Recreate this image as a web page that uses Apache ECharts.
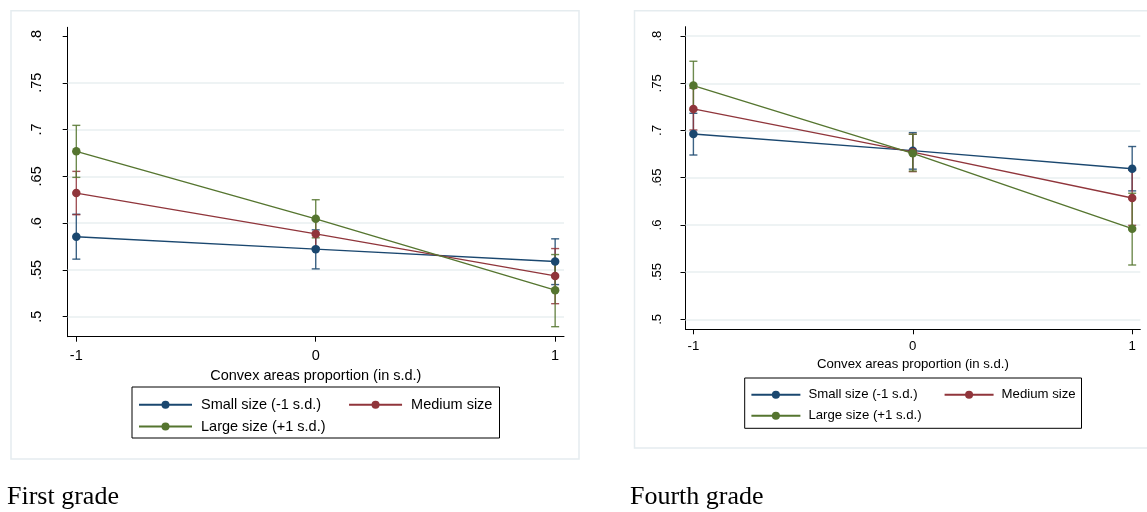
<!DOCTYPE html>
<html>
<head>
<meta charset="utf-8">
<script src="https://cdn.jsdelivr.net/npm/echarts@6/dist/echarts.min.js"></script>
<style>
  html, body { margin: 0; padding: 0; background: #fff; }
  #wrap { position: relative; width: 1147px; height: 512px; }
  #chart { position: absolute; left: 0; top: 0; width: 1147px; height: 512px; }
  .cap { position: absolute; font-family: "Liberation Serif", "Times New Roman", serif; font-size: 26px; line-height: 26px; color: #000; white-space: nowrap; }
</style>
</head>
<body>
<div id="wrap">
  <div id="chart"></div>
  <div class="cap" style="left:7px; top:483px;">First grade</div>
  <div class="cap" style="left:630px; top:483px;">Fourth grade</div>
</div>
<script>
// ---------- data ----------
const xValues = [-1, 0, 1];
const xTickLabels = ['-1', '0', '1'];
const yTickValues = [0.5, 0.55, 0.6, 0.65, 0.7, 0.75, 0.8];
const yTickLabels = ['.5', '.55', '.6', '.65', '.7', '.75', '.8'];
const seriesNames = ['Small size (-1 s.d.)', 'Medium size', 'Large size (+1 s.d.)'];
const xTitle = 'Convex areas proportion (in s.d.)';

// First grade
const g1Small   = [0.5855, 0.5722, 0.5589];
const g1SmallLo = [0.5615, 0.5511, 0.5343];
const g1SmallHi = [0.6095, 0.5928, 0.5832];
const g1Medium   = [0.6321, 0.5885, 0.5436];
const g1MediumLo = [0.6090, 0.5735, 0.5139];
const g1MediumHi = [0.6553, 0.6035, 0.5728];
const g1Large   = [0.6767, 0.6046, 0.5283];
const g1LargeLo = [0.6489, 0.5843, 0.4893];
const g1LargeHi = [0.7045, 0.6250, 0.5664];
const g1Grid = [0.5, 0.55, 0.6, 0.65, 0.7, 0.75];

// Fourth grade
const g4Small   = [0.6963, 0.6786, 0.6595];
const g4SmallLo = [0.6740, 0.6590, 0.6360];
const g4SmallHi = [0.7182, 0.6977, 0.6830];
const g4Medium   = [0.7228, 0.6770, 0.6285];
const g4MediumLo = [0.7005, 0.6564, 0.5995];
const g4MediumHi = [0.7447, 0.6960, 0.6580];
const g4Large   = [0.7475, 0.6758, 0.5960];
const g4LargeLo = [0.7217, 0.6570, 0.5575];
const g4LargeHi = [0.7733, 0.6960, 0.6335];
const g4Grid = [0.5, 0.55, 0.6, 0.65, 0.7, 0.75, 0.8];

const colors = ['#1a476f', '#90353b', '#55752f'];
const FONT = '"Liberation Sans", Arial, sans-serif';

// ---------- helpers ----------
function linePts(vals) { return xValues.map((x, i) => [x, vals[i]]); }
function ciPts(lo, hi) { return xValues.map((x, i) => [x, lo[i], hi[i]]); }

function barRenderer(color) {
  return function (params, api) {
    const x = api.value(0);
    const a = api.coord([x, api.value(1)]);
    const b = api.coord([x, api.value(2)]);
    const w = 4;
    const st = { stroke: color, lineWidth: 1.4, opacity: 0.85 };
    return {
      type: 'group',
      children: [
        { type: 'line', shape: { x1: a[0], y1: a[1], x2: b[0], y2: b[1] }, style: st },
        { type: 'line', shape: { x1: a[0] - w, y1: a[1], x2: a[0] + w, y2: a[1] }, style: st },
        { type: 'line', shape: { x1: b[0] - w, y1: b[1], x2: b[0] + w, y2: b[1] }, style: st }
      ]
    };
  };
}

function makeAxes(idx, yMin, yMax, fs, xMargin, xNameGap, yMargin) {
  const xAxis = {
    type: 'value', gridIndex: idx, min: -1.036, max: 1.037,
    name: xTitle, nameLocation: 'middle', nameGap: xNameGap,
    nameTextStyle: { fontFamily: FONT, fontSize: fs, color: '#000', verticalAlign: 'top' },
    axisLine: { show: true, onZero: false, lineStyle: { color: '#000', width: 1 } },
    axisTick: { show: true, inside: false, length: 5, lineStyle: { color: '#000' }, customValues: xValues },
    axisLabel: { show: true, margin: xMargin, fontFamily: FONT, fontSize: fs, color: '#000',
      customValues: xValues,
      formatter: v => { const i = xValues.indexOf(v); return i >= 0 ? xTickLabels[i] : ''; } },
    splitLine: { show: false }
  };
  const yAxis = {
    type: 'value', gridIndex: idx, min: yMin, max: yMax,
    axisLine: { show: true, onZero: false, lineStyle: { color: '#000', width: 1 } },
    axisTick: { show: true, inside: false, length: 5, lineStyle: { color: '#000' }, customValues: yTickValues },
    axisLabel: { show: true, rotate: 90, margin: yMargin, fontFamily: FONT, fontSize: fs, color: '#000',
      customValues: yTickValues,
      formatter: v => { const i = yTickValues.findIndex(t => Math.abs(t - v) < 1e-9); return i >= 0 ? yTickLabels[i] : ''; } },
    splitLine: { show: false }
  };
  return { xAxis, yAxis };
}

function makeSeries(idx, groups, gridVals) {
  const out = [];
  groups.forEach((g, k) => {
    out.push({
      type: 'custom', name: 'ci' + idx + '_' + k, xAxisIndex: idx, yAxisIndex: idx,
      renderItem: barRenderer(colors[k]), data: ciPts(g.lo, g.hi),
      encode: { x: 0, y: [1, 2] }, z: 2, silent: true
    });
  });
  groups.forEach((g, k) => {
    const s = {
      type: 'line', name: seriesNames[k], xAxisIndex: idx, yAxisIndex: idx,
      data: linePts(g.v), symbol: 'circle', symbolSize: 8.5, showSymbol: true,
      lineStyle: { color: colors[k], width: 1.4 }, itemStyle: { color: colors[k] },
      z: 3 + k, silent: true
    };
    if (k === 0) {
      s.markLine = {
        silent: true, symbol: 'none', z: 1, label: { show: false },
        lineStyle: { color: '#e8eff1', width: 1.5, type: 'solid' },
        data: gridVals.map(v => ({ yAxis: v }))
      };
    }
    out.push(s);
  });
  return out;
}

const a1 = makeAxes(0, 0.4786, 0.8093, 14.5, 12, 27, 23);
const a2 = makeAxes(1, 0.4894, 0.8099, 13.2, 11, 26, 22);

const series = []
  .concat(makeSeries(0, [
    { v: g1Small, lo: g1SmallLo, hi: g1SmallHi },
    { v: g1Medium, lo: g1MediumLo, hi: g1MediumHi },
    { v: g1Large, lo: g1LargeLo, hi: g1LargeHi }
  ], g1Grid))
  .concat(makeSeries(1, [
    { v: g4Small, lo: g4SmallLo, hi: g4SmallHi },
    { v: g4Medium, lo: g4MediumLo, hi: g4MediumHi },
    { v: g4Large, lo: g4LargeLo, hi: g4LargeHi }
  ], g4Grid));

function legend(data, left, top, fs, iw, gap, pad) {
  return {
    data: data, left: left, top: top, orient: 'horizontal', padding: 0,
    itemWidth: iw, itemHeight: 10, itemGap: gap, selectedMode: false,
    textStyle: { fontFamily: FONT, fontSize: fs, color: '#000', padding: [0, 0, 0, pad] }
  };
}

const option = {
  animation: false,
  backgroundColor: '#fff',
  grid: [
    { left: 67.7, top: 27.3, width: 496.3, height: 309.4, containLabel: false },
    { left: 685.5, top: 26.7, width: 454.8, height: 302.6, containLabel: false }
  ],
  xAxis: [a1.xAxis, a2.xAxis],
  yAxis: [a1.yAxis, a2.yAxis],
  legend: [
    legend([seriesNames[0], seriesNames[1]], 138, 397.3, 14.5, 53, 27, 4),
    legend([seriesNames[2]], 138, 419, 14.5, 53, 27, 4),
    legend([seriesNames[0], seriesNames[1]], 750.4, 388.3, 13.2, 49, 26, 3),
    legend([seriesNames[2]], 750.4, 409.3, 13.2, 49, 26, 3)
  ],
  graphic: [
    { type: 'rect', silent: true, z: -10, shape: { x: 11, y: 10.7, width: 568, height: 448.3 },
      style: { fill: 'none', stroke: '#e5ecef', lineWidth: 1.5 } },
    { type: 'rect', silent: true, z: -10, shape: { x: 634.5, y: 10.7, width: 520, height: 437.3 },
      style: { fill: 'none', stroke: '#e5ecef', lineWidth: 1.5 } },
    { type: 'rect', silent: true, shape: { x: 132, y: 387, width: 367.5, height: 51 },
      style: { fill: 'none', stroke: '#000', lineWidth: 1 } },
    { type: 'rect', silent: true, shape: { x: 744.7, y: 378, width: 336.8, height: 50.3 },
      style: { fill: 'none', stroke: '#000', lineWidth: 1 } }
  ],
  series: series
};

const chart = echarts.init(document.getElementById('chart'), null, { renderer: 'canvas' });
chart.setOption(option);
</script>
</body>
</html>
